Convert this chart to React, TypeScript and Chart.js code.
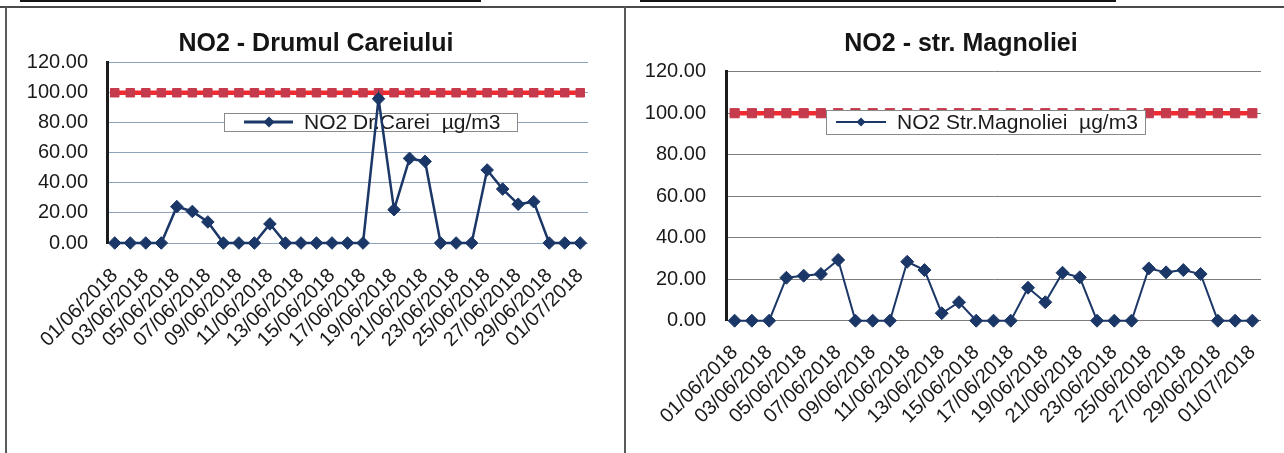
import React, { useEffect, useRef } from 'react';
import { Chart, registerables } from 'chart.js';

Chart.register(...registerables);

const DATES = [
  '01/06/2018', '02/06/2018', '03/06/2018', '04/06/2018', '05/06/2018', '06/06/2018',
  '07/06/2018', '08/06/2018', '09/06/2018', '10/06/2018', '11/06/2018', '12/06/2018',
  '13/06/2018', '14/06/2018', '15/06/2018', '16/06/2018', '17/06/2018', '18/06/2018',
  '19/06/2018', '20/06/2018', '21/06/2018', '22/06/2018', '23/06/2018', '24/06/2018',
  '25/06/2018', '26/06/2018', '27/06/2018', '28/06/2018', '29/06/2018', '30/06/2018',
  '01/07/2018',
];

const CAREI_VALUES = [
  0, 0, 0, 0, 24.2, 21.0, 14.0, 0, 0, 0, 12.7, 0, 0, 0, 0, 0, 0, 96.0, 22.2, 56.3, 54.3,
  0, 0, 0, 48.6, 35.9, 25.8, 27.5, 0, 0, 0,
];

const MAGNOLIEI_VALUES = [
  0, 0, 0, 20.7, 21.7, 22.5, 29.3, 0, 0, 0, 28.4, 24.4, 3.6, 8.9, 0, 0, 0, 15.9, 8.9, 23.1,
  20.9, 0, 0, 0, 25.2, 23.3, 24.4, 22.5, 0, 0, 0,
];

const LIMIT_VALUES = [
  100, 100, 100, 100, 100, 100, 100, 100, 100, 100, 100, 100, 100, 100, 100, 100, 100, 100,
  100, 100, 100, 100, 100, 100, 100, 100, 100, 100, 100, 100, 100,
];

const Y_MIN = 0;
const Y_MAX = 120;
const Y_STEP = 20;

const TITLE_CAREI = 'NO2 - Drumul Careiului';
const TITLE_MAGNOLIEI = 'NO2 - str. Magnoliei';
const LABEL_CAREI = 'NO2 Dr.Carei  µg/m3';
const LABEL_MAGNOLIEI = 'NO2 Str.Magnoliei  µg/m3';
const LABEL_LIMIT = 'Valoare limita';

const FONT = '"Liberation Sans", Arial, Helvetica, sans-serif';
const NAVY = '#1b3767';

const boxLegend = {
  id: 'boxLegend',
  beforeDatasetsDraw(chart: any, _args: any, opts: any) {
    if (opts.layer === 'below') drawLegend(chart, opts);
  },
  afterDatasetsDraw(chart: any, _args: any, opts: any) {
    if (opts.layer === 'above') drawLegend(chart, opts);
  },
};

const centerTitle = {
  id: 'centerTitle',
  afterDraw(chart: any, _args: any, opts: any) {
    const ctx = chart.ctx as CanvasRenderingContext2D;
    ctx.save();
    ctx.fillStyle = '#151515';
    ctx.font = `bold 25px ${FONT}`;
    ctx.textAlign = 'center';
    ctx.textBaseline = 'middle';
    ctx.fillText(opts.text, chart.width / 2, opts.y);
    ctx.restore();
  },
};

function drawLegend(chart: any, o: any) {
  const ctx = chart.ctx as CanvasRenderingContext2D;
  const ds = chart.data.datasets[0];
  const cy = o.y + o.h / 2;
  ctx.save();
  ctx.fillStyle = '#ffffff';
  ctx.fillRect(o.x, o.y, o.w, o.h);
  ctx.strokeStyle = '#8a8a8a';
  ctx.lineWidth = 1;
  ctx.strokeRect(o.x + 0.5, o.y + 0.5, o.w, o.h);
  ctx.strokeStyle = NAVY;
  ctx.lineWidth = o.lw;
  ctx.beginPath();
  ctx.moveTo(o.lx1, cy);
  ctx.lineTo(o.lx2, cy);
  ctx.stroke();
  ctx.fillStyle = NAVY;
  ctx.beginPath();
  ctx.moveTo(o.mx, cy - o.mr);
  ctx.lineTo(o.mx + o.mr, cy);
  ctx.lineTo(o.mx, cy + o.mr);
  ctx.lineTo(o.mx - o.mr, cy);
  ctx.closePath();
  ctx.fill();
  ctx.fillStyle = '#1a1a1a';
  ctx.font = `21px ${FONT}`;
  ctx.textBaseline = 'middle';
  ctx.textAlign = 'left';
  ctx.fillText(ds.label, o.tx, cy + 1);
  ctx.restore();
}

type Cfg = {
  left: number;
  top: number;
  width: number;
  height: number;
  title: string;
  label: string;
  values: number[];
  yWidth: number;
  xHeight: number;
  padRight: number;
  padTop: number;
  titleY: number;
  yTickPad: number;
  xTickPad: number;
  gridColor: string;
  lineWidth: number;
  pointRadius: number;
  limitRadius: number;
  legend: any;
};

function NO2Chart({ cfg }: { cfg: Cfg }) {
  const ref = useRef<HTMLCanvasElement | null>(null);
  useEffect(() => {
    if (!ref.current) return;
    const chart = new Chart(ref.current, {
      type: 'line',
      data: {
        labels: DATES,
        datasets: [
          {
            label: cfg.label,
            data: cfg.values,
            borderColor: NAVY,
            backgroundColor: NAVY,
            borderWidth: cfg.lineWidth,
            pointStyle: 'rectRot',
            pointRadius: cfg.pointRadius,
            pointBackgroundColor: NAVY,
            pointBorderColor: NAVY,
            pointBorderWidth: 1,
            tension: 0,
            clip: false,
          } as any,
          {
            label: LABEL_LIMIT,
            data: LIMIT_VALUES,
            borderColor: '#f22a30',
            backgroundColor: '#c53a4c',
            borderWidth: 4.5,
            pointStyle: 'rect',
            pointRadius: cfg.limitRadius,
            pointBackgroundColor: '#c53a4c',
            pointBorderColor: '#c53a4c',
            pointBorderWidth: 1,
            tension: 0,
            clip: false,
          } as any,
        ],
      },
      options: {
        animation: false,
        responsive: false,
        devicePixelRatio: 1,
        layout: { padding: { left: 0, right: cfg.padRight, top: cfg.padTop, bottom: 0 } },
        plugins: {
          legend: { display: false },
          tooltip: { enabled: false },
          title: { display: false },
          centerTitle: { text: cfg.title, y: cfg.titleY },
          boxLegend: cfg.legend,
        } as any,
        scales: {
          x: {
            type: 'category',
            offset: true,
            grid: { display: false, drawTicks: false },
            border: { display: false },
            afterFit: (s: any) => {
              s.height = cfg.xHeight;
              s.paddingLeft = 0;
              s.paddingRight = 0;
            },
            ticks: {
              autoSkip: false,
              maxRotation: 45,
              minRotation: 45,
              padding: cfg.xTickPad,
              color: '#1a1a1a',
              font: { family: FONT, size: 20 },
              callback: function (this: any, value: any, index: number) {
                return index % 2 === 0 ? this.getLabelForValue(value) : '';
              },
            },
          },
          y: {
            min: Y_MIN,
            max: Y_MAX,
            afterFit: (s: any) => {
              s.width = cfg.yWidth;
            },
            grid: { color: cfg.gridColor, lineWidth: 1, drawTicks: false },
            border: { display: true, width: 3, color: '#1c1c1c' },
            ticks: {
              stepSize: Y_STEP,
              padding: cfg.yTickPad,
              color: '#1a1a1a',
              font: { family: FONT, size: 20 },
              callback: (v: any) => Number(v).toFixed(2),
            },
          },
        },
      },
      plugins: [boxLegend, centerTitle],
    });
    return () => chart.destroy();
  }, [cfg]);
  return (
    <canvas
      ref={ref}
      width={cfg.width}
      height={cfg.height}
      style={{ position: 'absolute', left: cfg.left, top: cfg.top, width: cfg.width, height: cfg.height }}
    />
  );
}

const LEFT_CFG: Cfg = {
  left: 8,
  top: 10,
  width: 616,
  height: 443,
  title: TITLE_CAREI,
  label: LABEL_CAREI,
  values: CAREI_VALUES,
  yWidth: 99,
  xHeight: 210,
  padRight: 36,
  padTop: 52.7,
  titleY: 34,
  yTickPad: 19,
  xTickPad: 21,
  gridColor: '#8ea3ba',
  lineWidth: 2.5,
  pointRadius: 6.3,
  limitRadius: 6,
  legend: { layer: 'below', x: 216, y: 103, w: 293, h: 18, lx1: 236, lx2: 285, mx: 261, mr: 5.5, tx: 296, lw: 3 },
};

const RIGHT_CFG: Cfg = {
  left: 640,
  top: 10,
  width: 642,
  height: 443,
  title: TITLE_MAGNOLIEI,
  label: LABEL_MAGNOLIEI,
  values: MAGNOLIEI_VALUES,
  yWidth: 86,
  xHeight: 132.3,
  padRight: 21,
  padTop: 61.7,
  titleY: 34,
  yTickPad: 20,
  xTickPad: 20,
  gridColor: '#7c7c7c',
  lineWidth: 2,
  pointRadius: 6.5,
  limitRadius: 6.5,
  legend: { layer: 'above', x: 186, y: 100, w: 319, h: 24, lx1: 196, lx2: 246, mx: 221, mr: 4.5, tx: 257, lw: 1.8 },
};

export default function App() {
  return (
    <div style={{ position: 'absolute', left: 0, top: 0, width: 1284, height: 453, background: '#ffffff', overflow: 'hidden' }}>
      <div style={{ position: 'absolute', left: 20, top: 0, width: 461, height: 2, background: '#151515' }} />
      <div style={{ position: 'absolute', left: 640, top: 0, width: 476, height: 2, background: '#151515' }} />
      <div style={{ position: 'absolute', left: 0, top: 6, width: 1284, height: 2, background: '#4a4a4a' }} />
      <div style={{ position: 'absolute', left: 5, top: 7, width: 2, height: 446, background: '#5a5a5a' }} />
      <div style={{ position: 'absolute', left: 624, top: 7, width: 2, height: 446, background: '#5a5a5a' }} />
      <NO2Chart cfg={LEFT_CFG} />
      <NO2Chart cfg={RIGHT_CFG} />
    </div>
  );
}
